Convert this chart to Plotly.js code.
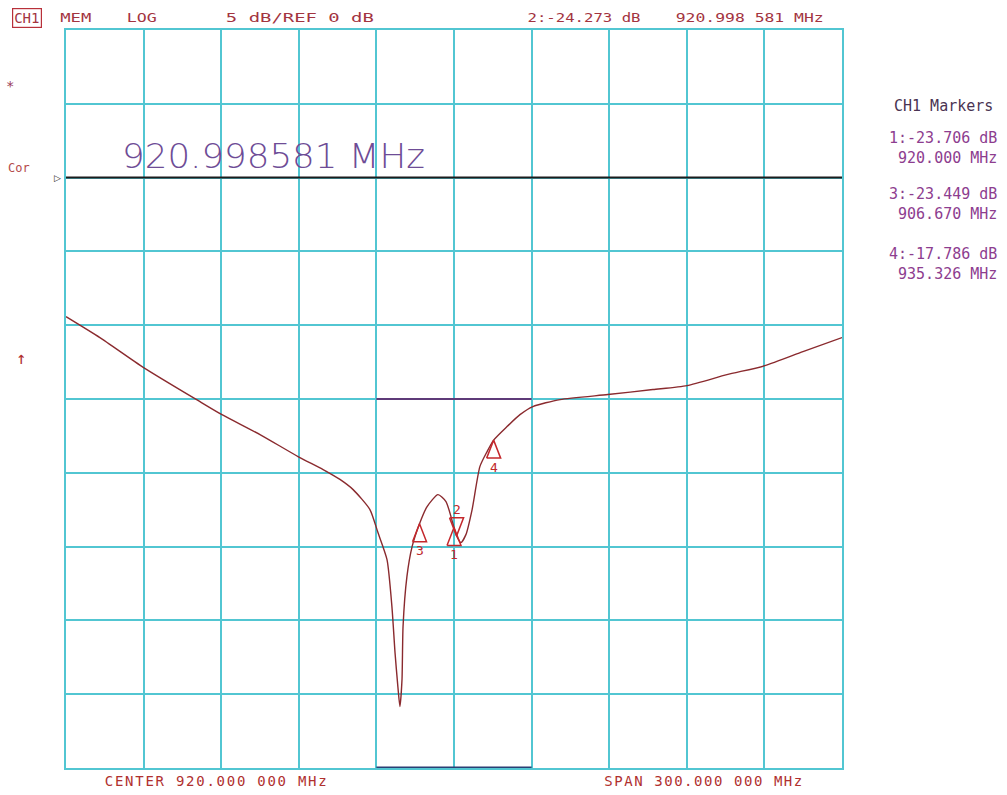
<!DOCTYPE html>
<html>
<head>
<meta charset="utf-8">
<script src="https://cdn.plot.ly/plotly-3.0.1.min.js"></script>
<style>
  html, body { margin: 0; padding: 0; background: #ffffff; }
  #plot { width: 1007px; height: 795px; }
</style>
</head>
<body>
<div id="plot"></div>
<script>
// CH1 sweep: frequency (MHz) and log magnitude (dB)
const sweepFreqMHz = [
  770, 783.1, 800, 821.8, 830.3, 845, 859.7, 869.4, 875.9, 881.0,
  887.5, 890.6, 894.1, 896.0, 897.2, 898.3, 899.1, 899.9, 900.3, 901.8,
  903.8, 906.67, 909.6, 913.8, 916.9, 920.0, 921.0, 922.7, 924.6, 927.0,
  930.0, 932.8, 935.33, 940.5, 945.5, 950.5, 961.0, 979.5, 996.9, 1010.1,
  1025.5, 1040.2, 1054.9, 1070
];
const sweepLevelDb = [
  -9.42, -10.84, -12.87, -15.18, -16.06, -17.41, -18.90, -19.78, -20.45, -21.14,
  -22.49, -24.05, -25.88, -29.07, -32.18, -34.49, -35.84, -34.01, -30.42, -27.03,
  -25.00, -23.449, -22.29, -21.48, -21.95, -23.706, -24.273, -24.73, -24.19, -22.49,
  -19.58, -18.56, -17.786, -16.87, -16.06, -15.51, -15.04, -14.70, -14.36, -14.09,
  -13.35, -12.74, -11.79, -10.84
];

// Markers
const markerIds = ['1', '2', '3', '4'];
const markerFreqMHz = [920.000, 920.998581, 906.670, 935.326];
const markerLevelDb = [-23.706, -24.273, -23.449, -17.786];
const activeMarker = '2';

// Limit lines and reference level line
const limitFreqMHz = [890, 950];
const upperLimitDb = [-15, -15];
const lowerLimitDb = [-40, -40];
const refFreqMHz = [770, 1070];
const refLevelDb = [0, 0];

// Instrument settings
const centerMHz = 920;
const spanMHz = 300;
const dbPerDiv = 5;
const refValueDb = 0;

// ---- layout geometry (pixels) ----
const W = 1007, H = 795;
const PL = 66, PR = 842, PT = 30, PB = 768;
const xRange = [centerMHz - spanMHz / 2, centerMHz + spanMHz / 2];
const yRange = [refValueDb - 8 * dbPerDiv, refValueDb + 2 * dbPerDiv];
const mhzPerPx = (xRange[1] - xRange[0]) / (PR - PL);
const dbPerPx = (yRange[1] - yRange[0]) / (PB - PT);

const px2x = p => (p - PL) / (PR - PL);
const px2y = p => (PB - p) / (PB - PT);

const MONO = 'DejaVu Sans Mono';
const HDR = '#a3343f';
const LIST = '#8d3d8f';

const annotations = [];
const fits = [];
function label(text, cx, cy, size, color, fit, extra) {
  annotations.push(Object.assign({
    text: text, xref: 'paper', yref: 'paper', x: px2x(cx), y: px2y(cy),
    xanchor: 'center', yanchor: 'middle', showarrow: false,
    font: { family: MONO, size: size, color: color }
  }, extra || {}));
  fits.push(fit || null);
}

// header line
label('CH1', 27, 18, 14, HDR, null, { bordercolor: '#b8303a', borderwidth: 1.2, borderpad: 1 });
label('MEM', 76, 18, 13, HDR, { w: 31, adj: 'spacingAndGlyphs' });
label('LOG', 142, 18, 13, HDR, { w: 30, adj: 'spacingAndGlyphs' });
label(dbPerDiv + ' dB/REF ' + refValueDb + ' dB', 300, 18, 13, HDR, { w: 148, adj: 'spacingAndGlyphs' });
label(activeMarker + ':' + markerLevelDb[1].toFixed(3) + ' dB', 584, 18, 13, HDR, { w: 113, adj: 'spacingAndGlyphs' });
label('920.998 581 MHz', 749, 18, 13, HDR, { w: 148, adj: 'spacingAndGlyphs' });

// footer line
label('CENTER 920.000 000 MHz', 215, 781, 14, '#b0302f', { w: 222, adj: 'spacing' });
label('SPAN 300.000 000 MHz', 703, 781, 14, '#b0302f', { w: 198, adj: 'spacing' });

// left side annunciators
label('*', 10, 86, 14, '#9a3a5a');
label('Cor', 19, 168, 12, '#b44a4a');
label('\u2191', 21, 358, 17, '#b03030');

// active marker frequency readout (thin stroke style)
label(markerFreqMHz[1].toFixed(6) + ' MHz', 273, 156, 34, '#6e4c96', { w: 303, adj: 'spacingAndGlyphs' },
  { font: { family: 'DejaVu Sans', size: 34, color: '#6e4c96', weight: 200 } });

// marker list panel
label('CH1 Markers', 943, 106, 15, '#4a3352');
const listY = { '1': 148, '3': 204, '4': 264 };
markerIds.forEach((id, i) => {
  if (id === activeMarker) return;
  annotations.push({
    text: id + ':' + markerLevelDb[i].toFixed(3) + ' dB<br>' + markerFreqMHz[i].toFixed(3) + ' MHz',
    xref: 'paper', yref: 'paper', x: px2x(999), y: px2y(listY[id]),
    xanchor: 'right', yanchor: 'middle', align: 'right', showarrow: false,
    font: { family: MONO, size: 15, color: LIST }
  });
  fits.push(null);
});

// reference position indicator at left end of the reference line
annotations.push({
  text: '\u25B7', xref: 'x', yref: 'y', x: refFreqMHz[0], y: refLevelDb[0],
  xshift: -9, xanchor: 'center', yanchor: 'middle', showarrow: false,
  font: { family: 'DejaVu Sans', size: 9, color: '#222222' }
});
fits.push(null);

// marker triangles (apex on the trace), active marker drawn inverted
const triHalfW = 7 * mhzPerPx;
const triH = 18 * dbPerPx;
const triX = [], triY = [];
markerIds.forEach((id, i) => {
  const f = markerFreqMHz[i], v = markerLevelDb[i];
  const base = id === activeMarker ? v + triH : v - triH;
  triX.push(f - triHalfW, f + triHalfW, f, f - triHalfW, null);
  triY.push(base, base, v, base, null);
  annotations.push({
    text: id, xref: 'x', yref: 'y', x: f, y: v,
    yshift: id === activeMarker ? 26 : -27, showarrow: false,
    xanchor: 'center', yanchor: 'middle',
    font: { family: MONO, size: 13, color: '#c0282c' }
  });
  fits.push(null);
});

const traces = [
  { x: refFreqMHz, y: refLevelDb, mode: 'lines', line: { color: '#1c1c1c', width: 2 }, hoverinfo: 'skip' },
  { x: limitFreqMHz, y: upperLimitDb, mode: 'lines', line: { color: '#5e3a78', width: 2 }, hoverinfo: 'skip' },
  { x: limitFreqMHz, y: lowerLimitDb, mode: 'lines', line: { color: '#2a3f74', width: 3 }, hoverinfo: 'skip', cliponaxis: false },
  { x: sweepFreqMHz, y: sweepLevelDb, mode: 'lines', line: { color: '#8a2a2e', width: 1.4, shape: 'spline', smoothing: 0.6 }, hoverinfo: 'skip' },
  { x: triX, y: triY, mode: 'lines', line: { color: '#c4282c', width: 1.5 }, hoverinfo: 'skip', cliponaxis: false }
];

const GRID = '#52c6d2';
const axisBase = {
  showticklabels: false, ticks: '', showgrid: true, gridcolor: GRID, gridwidth: 2,
  zeroline: false, showline: true, linecolor: GRID, linewidth: 2, mirror: true,
  fixedrange: true
};

const layout = {
  width: W, height: H,
  margin: { l: PL, r: W - PR, t: PT, b: H - PB, pad: 0 },
  paper_bgcolor: '#ffffff', plot_bgcolor: '#ffffff',
  showlegend: false,
  xaxis: Object.assign({}, axisBase, { range: xRange, dtick: spanMHz / 10, tick0: xRange[0] }),
  yaxis: Object.assign({}, axisBase, { range: yRange, dtick: dbPerDiv, tick0: yRange[0] }),
  annotations: annotations
};

const gd = document.getElementById('plot');
Plotly.newPlot(gd, traces, layout, { staticPlot: true, displayModeBar: false }).then(() => {
  // set fixed-pitch readouts to the instrument's character pitch
  fits.forEach((fit, i) => {
    if (!fit) return;
    const t = gd.querySelector('g.annotation[data-index="' + i + '"] text.annotation-text');
    if (t) {
      t.setAttribute('textLength', fit.w);
      t.setAttribute('lengthAdjust', fit.adj);
    }
  });
});
</script>
</body>
</html>
